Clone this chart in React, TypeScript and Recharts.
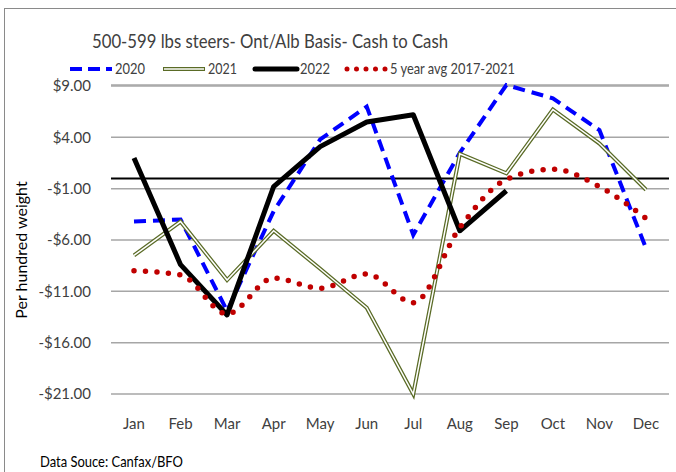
import { CartesianGrid, Line, LineChart, ReferenceLine, XAxis, YAxis } from 'recharts';

const months = ['Jan', 'Feb', 'Mar', 'Apr', 'May', 'Jun', 'Jul', 'Aug', 'Sep', 'Oct', 'Nov', 'Dec'];
const basis2020 = [-4.2, -4.0, -12.9, -3.2, 3.8, 7.0, -5.5, 2.5, 9.1, 7.8, 4.7, -6.8];
const basis2021 = [-7.5, -4.2, -9.9, -5.1, -8.8, -12.6, -21.0, 2.4, 0.5, 6.7, 3.4, -1.1];
const basis2022 = [2.0, -8.4, -13.3, -0.8, 3.1, 5.5, 6.2, -5.1, -1.2, null, null, null];
const avg5yr = [-9.0, -9.4, -13.2, -9.7, -10.7, -9.3, -12.1, -4.8, -0.1, 0.9, -0.8, -3.9];
const yTicks = [-21, -16, -11, -6, -1, 4, 9];

const data = months.map((m, i) => ({
  month: m,
  y2020: basis2020[i],
  y2021: basis2021[i],
  y2022: basis2022[i],
  avg: avg5yr[i],
}));

const FONT = "Lato, 'Open Sans', sans-serif";
const TEXT = '#404040';

const fmtDollar = (v: number) => (v < 0 ? `-$${Math.abs(v).toFixed(2)}` : `$${v.toFixed(2)}`);

// title, legend and source note, drawn over the chart
function Overlay() {
  const items = [
    { label: '2020', x: 70, len: 30, draw: <line x1={0} x2={42} y1={0} y2={0} stroke="#0000ff" strokeWidth={4} strokeDasharray="12 6" /> },
    {
      label: '2021',
      x: 163,
      len: 29,
      draw: (
        <g>
          <line x1={0} x2={42} y1={0} y2={0} stroke="#5a6b26" strokeWidth={4} />
          <line x1={1} x2={41} y1={0} y2={0} stroke="#fff" strokeWidth={1.5} />
        </g>
      ),
    },
    { label: '2022', x: 255, len: 30, draw: <line x1={0} x2={42} y1={0} y2={0} stroke="#000" strokeWidth={5} strokeLinecap="round" /> },
    {
      label: '5 year avg 2017-2021',
      x: 345,
      len: 125,
      draw: <line x1={2} x2={42} y1={0} y2={0} stroke="#c00000" strokeWidth={5} strokeDasharray="0 9.5" strokeLinecap="round" />,
    },
  ];
  return (
    <svg width={676} height={472} style={{ position: 'absolute', left: 0, top: 0, pointerEvents: 'none' }}>
      <text x={92} y={48} fontSize={20} fill={TEXT} fontFamily={FONT} textLength={356} lengthAdjust="spacingAndGlyphs">
        500-599 lbs steers- Ont/Alb Basis- Cash to Cash
      </text>
      {items.map((it) => (
        <g key={it.label} transform={`translate(${it.x},69)`}>
          {it.draw}
          <text x={45} y={5} fontSize={15} fill={TEXT} fontFamily={FONT} textLength={it.len} lengthAdjust="spacingAndGlyphs">
            {it.label}
          </text>
        </g>
      ))}
      <text x={40} y={467} fontSize={16} fill="#000" fontFamily={FONT} textLength={143} lengthAdjust="spacingAndGlyphs">
        Data Souce: Canfax/BFO
      </text>
      <text
        x={0}
        y={0}
        transform="translate(27,250) rotate(-90)"
        textAnchor="middle"
        fontSize={16}
        fill="#000"
        fontFamily={FONT}
      >
        Per hundred weight
      </text>
    </svg>
  );
}

export default function App() {
  return (
    <div style={{ position: 'absolute', left: 0, top: 0, width: 676, height: 472, background: '#fff', overflow: 'hidden' }}>
      <div
        style={{ position: 'absolute', left: 4, top: 8, width: 720, height: 520, border: '1px solid #8a8a8a', boxSizing: 'border-box' }}
      />
      <LineChart
        width={676}
        height={472}
        data={data}
        margin={{ top: 85, right: 7, bottom: 48, left: 10 }}
        style={{ position: 'absolute', left: 0, top: 0 }}
      >
        <CartesianGrid vertical={false} stroke="#a6a6a6" strokeWidth={1.5} />
        <XAxis
          dataKey="month"
          axisLine={false}
          tickLine={false}
          height={30}
          padding={{ left: 23, right: 23 }}
          tickMargin={18}
          tick={{ fill: TEXT, fontSize: 15, fontFamily: FONT }}
          interval={0}
        />
        <YAxis
          domain={[-21, 9]}
          ticks={yTicks}
          width={101}
          axisLine={false}
          tickLine={false}
          tickMargin={14}
          tickFormatter={fmtDollar}
          tick={{ fill: TEXT, fontSize: 15, fontFamily: FONT }}
        />
        <ReferenceLine y={0} stroke="#000" strokeWidth={2} />
        <Line
          type="linear"
          dataKey="y2020"
          stroke="#0000ff"
          strokeWidth={4}
          strokeDasharray="12 7"
          dot={false}
          isAnimationActive={false}
        />
        <Line type="linear" dataKey="y2021" stroke="#5a6b26" strokeWidth={4} dot={false} isAnimationActive={false} />
        <Line
          type="linear"
          dataKey="y2021"
          stroke="#ffffff"
          strokeWidth={1.5}
          dot={false}
          legendType="none"
          isAnimationActive={false}
        />
        <Line
          type="linear"
          dataKey="y2022"
          stroke="#000000"
          strokeWidth={5}
          strokeLinejoin="round"
          dot={false}
          isAnimationActive={false}
        />
        <Line
          type="monotone"
          dataKey="avg"
          stroke="#c00000"
          strokeWidth={5.5}
          strokeDasharray="0 11.5"
          strokeLinecap="round"
          dot={false}
          isAnimationActive={false}
        />
      </LineChart>
      <Overlay />
    </div>
  );
}
